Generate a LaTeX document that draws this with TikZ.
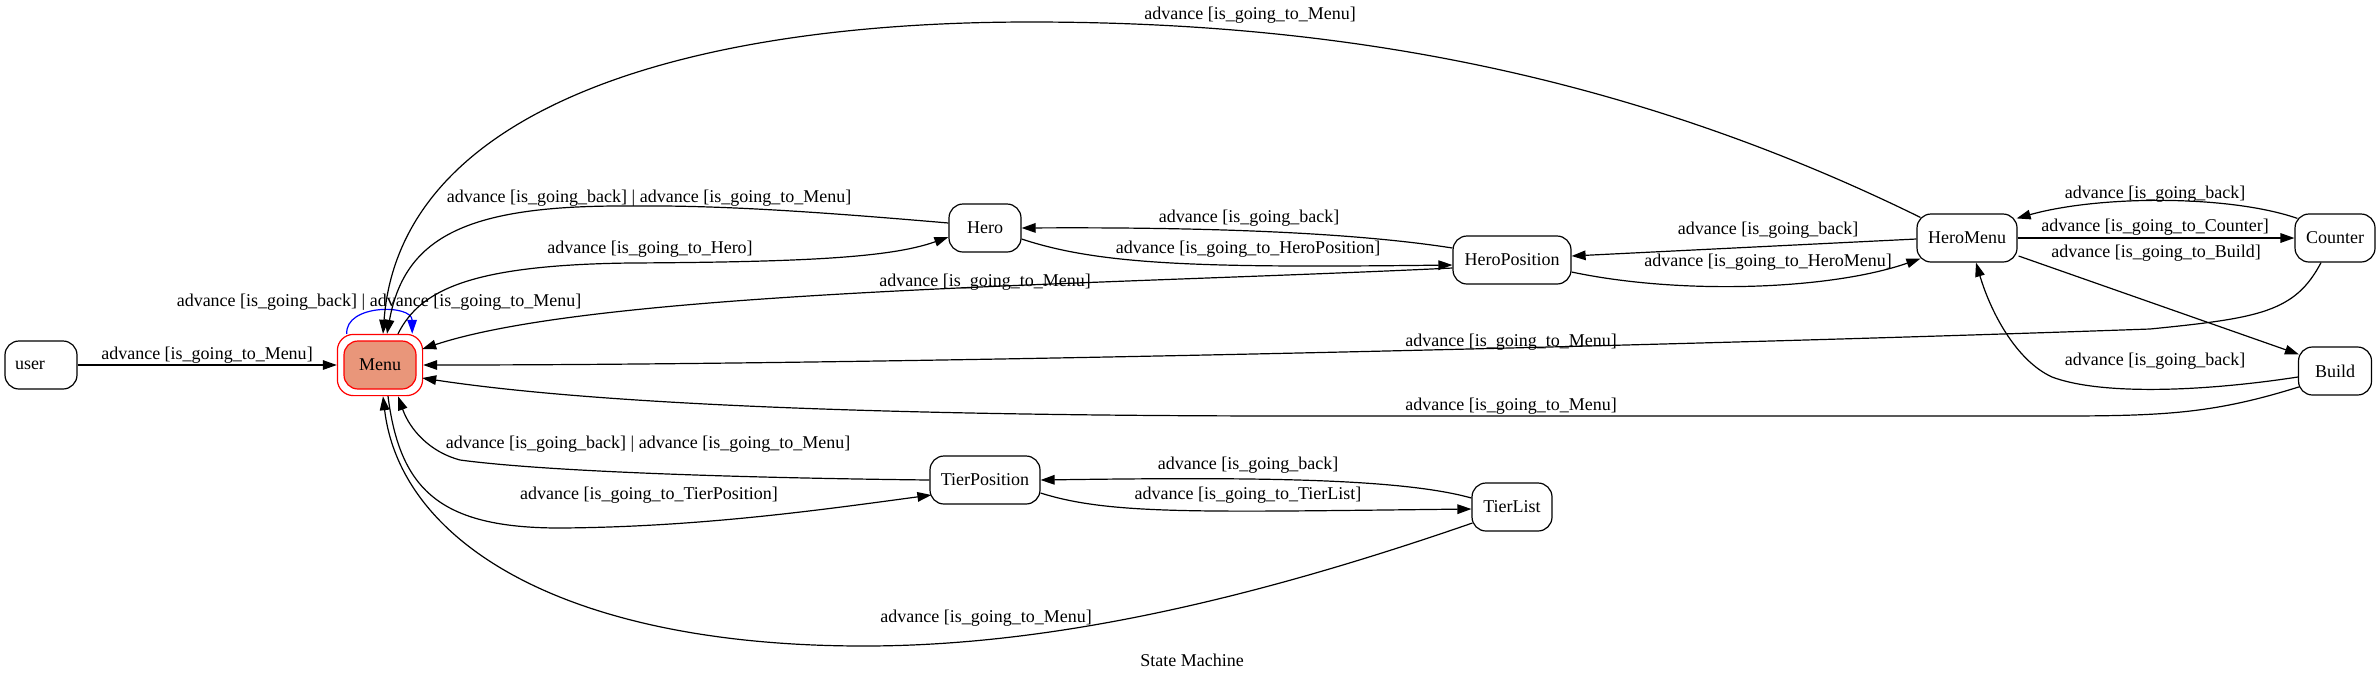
\documentclass[tikz,border=0pt]{standalone}
\usepackage{fontspec}
\setmainfont{Liberation Serif}
\usetikzlibrary{arrows.meta,calc,fit}
\definecolor{menufill}{RGB}{233,150,122}
\begin{document}
\begin{tikzpicture}[x=0.5pt,y=-0.5pt,
  every node/.style={font=\fontsize{9pt}{10pt}\selectfont},
  state/.style={draw, rounded corners=7pt, minimum height=24pt, inner sep=0pt, line width=0.6pt},
  lab/.style={inner sep=0pt, anchor=center},
  tr/.style={-{Triangle[length=7pt,width=4.8pt]}, line width=0.6pt}]
\fill[white] (0,0) rectangle (2380,682);
\useasboundingbox (0,0) rectangle (2380,682);

% states
\node[state, minimum width=36pt, text width=26pt, align=left] (user) at (41,365) {user};
\node[state, draw=red, fill=menufill, minimum width=36pt] (Menu) at (380,365) {Menu};
\node[draw=red, rounded corners=8pt, inner sep=3pt, fit=(Menu), line width=0.6pt] (Menuouter) {};
\node[state, minimum width=36pt] (Hero) at (985,228) {Hero};
\node[state, minimum width=59pt] (HeroPosition) at (1512,260) {HeroPosition};
\node[state, minimum width=50pt] (HeroMenu) at (1967,238) {HeroMenu};
\node[state, minimum width=40pt] (Counter) at (2335,238) {Counter};
\node[state, minimum width=36.5pt] (Build) at (2335,371) {Build};
\node[state, minimum width=55pt] (TierPosition) at (985,480) {TierPosition};
\node[state, minimum width=40pt] (TierList) at (1512,507) {TierList};

% edges
\draw[tr] (user.east) -- (Menuouter.west);
\draw[tr, blue] ($(Menuouter.north west)+(10,0)$) .. controls (345,304) and (412,304) .. ($(Menuouter.north east)+(-11,0)$);
\draw[tr] ($(Hero.west)+(0,-5)$) .. controls (820,212) and (720,205) .. (630,206) .. controls (470,205) and (405,235) .. ($(Menuouter.north)+(7,0)$);
\draw[tr] ($(Menuouter.north)+(18,0)$) .. controls (420,290) and (470,265) .. (630,263) .. controls (800,262) and (890,258) .. ($(Hero.west)+(0,9)$);
\draw[tr] ($(HeroMenu.north west)+(4,4)$) .. controls (1600,60) and (1300,22) .. (1030,22) .. controls (680,22) and (400,110) .. ($(Menuouter.north)+(3,0)$);
\draw[tr] ($(HeroPosition.west)+(0,8)$) .. controls (1100,285) and (600,290) .. ($(Menuouter.east)+(-1,-16)$);
\draw[tr] ($(Counter.south)+(-14,0)$) .. controls (2295,312) and (2260,318) .. (2150,329) .. controls (1700,345) and (900,365) .. (Menuouter.east);
\draw[tr] ($(Build.south west)+(2,-9)$) .. controls (2200,418) and (2150,416) .. (2000,416) -- (1300,416) .. controls (900,416) and (600,405) .. ($(Menuouter.east)+(-1,13)$);
\draw[tr] ($(HeroPosition.west)+(0,-12)$) .. controls (1350,232) and (1200,227) .. (Hero.east);
\draw[tr] ($(Hero.east)+(0,11)$) .. controls (1100,265) and (1200,268) .. ($(HeroPosition.west)+(0,5)$);
\draw[tr] ($(HeroMenu.west)+(0,1)$) -- ($(HeroPosition.east)+(0,-4)$);
\draw[tr] ($(HeroPosition.east)+(0,12)$) .. controls (1680,295) and (1830,290) .. ($(HeroMenu.south west)+(4,-4)$);
\draw[tr] ($(Counter.north west)+(3,5)$) .. controls (2230,195) and (2100,195) .. ($(HeroMenu.north east)+(-1,5)$);
\draw[tr] (HeroMenu.east) -- (Counter.west);
\draw[tr] ($(HeroMenu.east)+(1,18)$) -- ($(Build.north west)+(1,8)$);
\draw[tr] ($(Build.west)+(0,6)$) .. controls (2200,392) and (2100,395) .. (2052,377) .. controls (2015,360) and (1990,310) .. ($(HeroMenu.south)+(9,0)$);
\draw[tr] (TierPosition.west) .. controls (750,478) and (550,472) .. (460,460) .. controls (430,452) and (410,430) .. ($(Menuouter.south)+(18,0)$);
\draw[tr] ($(Menuouter.south)+(8,0)$) .. controls (400,490) and (440,528) .. (560,528) .. controls (700,527) and (820,510) .. ($(TierPosition.west)+(2,15)$);
\draw[tr] ($(TierList.west)+(0,-9)$) .. controls (1400,478) and (1250,477) .. (TierPosition.east);
\draw[tr] ($(TierPosition.east)+(0,13)$) .. controls (1110,515) and (1200,512) .. ($(TierList.west)+(0,2)$);
\draw[tr] ($(TierList.west)+(1,16)$) .. controls (1250,600) and (1050,646) .. (864,646) .. controls (560,646) and (400,540) .. ($(Menuouter.south)+(3,0)$);

% labels
\node[lab] (l1) at (207,355) {advance [is\_going\_to\_Menu]};
\node[lab] (l2) at (379,302) {advance [is\_going\_back] | advance [is\_going\_to\_Menu]};
\node[lab] (l3) at (649,198) {advance [is\_going\_back] | advance [is\_going\_to\_Menu]};
\node[lab] (l4) at (650,249) {advance [is\_going\_to\_Hero]};
\node[lab] (l5) at (1250,15) {advance [is\_going\_to\_Menu]};
\node[lab] (l6) at (985,282) {advance [is\_going\_to\_Menu]};
\node[lab] (l7) at (1511,342) {advance [is\_going\_to\_Menu]};
\node[lab] (l8) at (1511,406) {advance [is\_going\_to\_Menu]};
\node[lab] (l9) at (1249,218) {advance [is\_going\_back]};
\node[lab] (l10) at (1248,249) {advance [is\_going\_to\_HeroPosition]};
\node[lab] (l11) at (1768,230) {advance [is\_going\_back]};
\node[lab] (l12) at (1768,262) {advance [is\_going\_to\_HeroMenu]};
\node[lab] (l13) at (2155,194) {advance [is\_going\_back]};
\node[lab] (l14) at (2155,227) {advance [is\_going\_to\_Counter]};
\node[lab] (l15) at (2156,253) {advance [is\_going\_to\_Build]};
\node[lab] (l16) at (2155,361) {advance [is\_going\_back]};
\node[lab] (l17) at (648,444) {advance [is\_going\_back] | advance [is\_going\_to\_Menu]};
\node[lab] (l18) at (649,495) {advance [is\_going\_to\_TierPosition]};
\node[lab] (l19) at (1248,465) {advance [is\_going\_back]};
\node[lab] (l20) at (1248,495) {advance [is\_going\_to\_TierList]};
\node[lab] (l21) at (986,618) {advance [is\_going\_to\_Menu]};
\node[lab] (title) at (1192,660) {State Machine};
\end{tikzpicture}
\end{document}
